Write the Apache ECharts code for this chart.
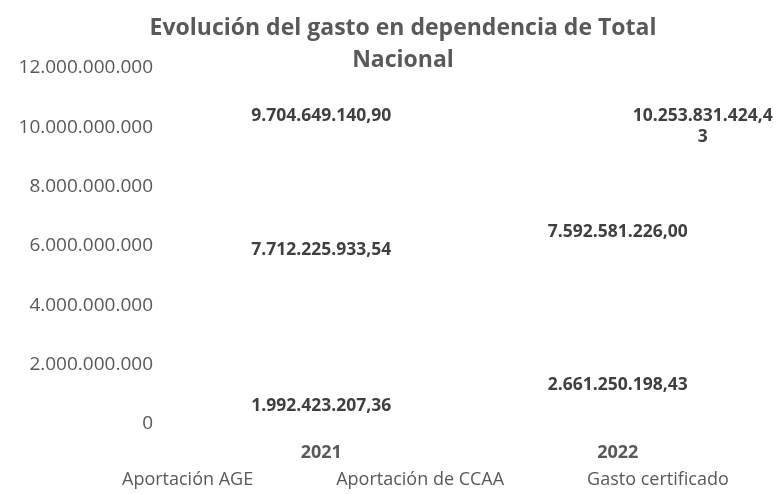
<!DOCTYPE html>
<html>
<head>
<meta charset="utf-8">
<script src="https://cdn.jsdelivr.net/npm/echarts@6/dist/echarts.min.js"></script>
<style>
  html, body { margin: 0; padding: 0; background: #fff; }
  #main { width: 776px; height: 494px; }
</style>
</head>
<body>
<div id="main"></div>
<script>
// datos
const years = ['2021', '2022']
const aportacionAGE = [1992423207.36, 2661250198.43]
const aportacionCCAA = [7712225933.54, 7592581226.00]
const gastoCertificado = [9704649140.90, 10253831424.43]
const seriesNames = ['Aportación AGE', 'Aportación de CCAA', 'Gasto certificado']

const FONT = '"Open Sans", sans-serif'

// formato español: 1.234.567,89
const fmtThousands = (s) => s.replace(/\B(?=(\d{3})+(?!\d))/g, '.')
const fmtNum = (v, dec) => {
    const parts = v.toFixed(dec).split('.')
    const ent = fmtThousands(parts[0])
    return dec ? ent + ',' + parts[1] : ent
}

const labelStyle = {
    show: true,
    color: '#404040',
    fontFamily: FONT,
    fontWeight: 'bold',
    fontSize: 17.5,
    formatter: (p) => fmtNum(p.value, 2)
}

const chart = echarts.init(document.getElementById('main'))

chart.setOption({
    animation: false,
    title: {
        text: 'Evolución del gasto en dependencia de Total\nNacional',
        left: 398,
        top: 7,
        textAlign: 'center',
        textStyle: {
            color: '#595959',
            fontFamily: FONT,
            fontWeight: 'bold',
            fontSize: 23,
            lineHeight: 32
        }
    },
    legend: {
        data: seriesNames,
        bottom: 0,
        left: 112,
        icon: 'none',
        itemWidth: 0,
        itemHeight: 0,
        itemGap: 78,
        textStyle: { color: '#595959', fontFamily: FONT, fontSize: 18 }
    },
    grid: {
        left: 173,
        right: 10,
        top: 68,
        bottom: 70
    },
    xAxis: {
        type: 'category',
        data: years,
        axisLine: { show: false },
        axisTick: { show: false },
        axisLabel: {
            margin: 20,
            color: '#595959',
            fontFamily: FONT,
            fontWeight: 'bold',
            fontSize: 18
        }
    },
    yAxis: {
        type: 'value',
        min: 0,
        max: 12000000000,
        interval: 2000000000,
        axisLine: { show: false },
        axisTick: { show: false },
        splitLine: { show: false },
        axisLabel: {
            margin: 20,
            color: '#595959',
            fontFamily: FONT,
            fontSize: 19,
            formatter: (v) => fmtNum(v, 0)
        }
    },
    series: [
        {
            name: seriesNames[0],
            type: 'bar',
            stack: 'total',
            barWidth: '45%',
            itemStyle: { color: 'rgba(0,0,0,0)' },
            label: { ...labelStyle, position: 'inside' },
            // la etiqueta de 2021 está desplazada hacia abajo en el original
            data: aportacionAGE.map((v, i) => i === 0 ? { value: v, label: { offset: [0, 12] } } : v)
        },
        {
            name: seriesNames[1],
            type: 'bar',
            stack: 'total',
            barWidth: '45%',
            itemStyle: { color: 'rgba(0,0,0,0)' },
            label: { ...labelStyle, position: 'inside' },
            data: aportacionCCAA
        },
        {
            name: seriesNames[2],
            type: 'line',
            symbol: 'circle',
            symbolSize: 1,
            itemStyle: { color: 'rgba(0,0,0,0)' },
            lineStyle: { opacity: 0 },
            label: { ...labelStyle, position: 'top', distance: 11 },
            data: gastoCertificado.map((v, i) => i === 1 ? {
                value: v,
                label: {
                    position: 'inside',
                    offset: [85, 7],
                    width: 145,
                    overflow: 'breakAll',
                    align: 'center',
                    lineHeight: 21
                }
            } : v)
        }
    ]
})
</script>
</body>
</html>
